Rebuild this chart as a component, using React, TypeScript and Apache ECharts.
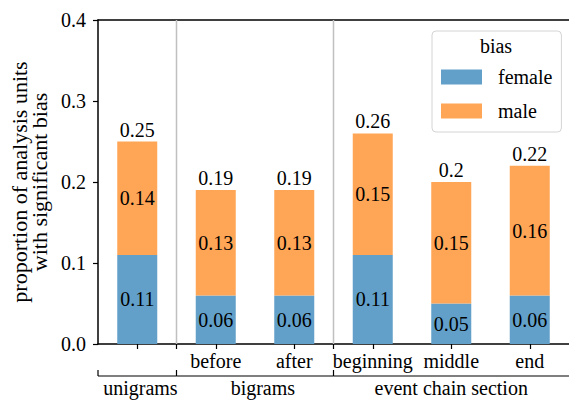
import React, { useEffect, useRef } from "react";
import * as echarts from "echarts";

const categories = ["", "before", "after", "beginning", "middle", "end"];
const female = [0.11, 0.06, 0.06, 0.11, 0.05, 0.06];
const male = [0.14, 0.13, 0.13, 0.15, 0.15, 0.16];
const totals = [0.25, 0.19, 0.19, 0.26, 0.2, 0.22];
const separators = [0.5, 2.5];
const groupNames = ["unigrams", "bigrams", "event chain section"];
const groupStarts = [-0.5, 0.5, 2.5];
const groupEnds = [0.5, 2.5, 5.5];
const groupLabelPos = [0.04, 1.6, 4.0];

const FONT = "'Liberation Serif', 'Times New Roman', serif";
const FS = 20;
const BLUE = "#62a0ca";
const ORANGE = "#ffa556";

export default function App() {
  const ref = useRef<HTMLDivElement>(null);
  useEffect(() => {
    if (!ref.current) return;
    const chart = echarts.init(ref.current, undefined, { renderer: "svg" });
    const valueLabel = (position: string, distance?: number) => ({
      show: true,
      position,
      distance,
      fontSize: FS,
      fontFamily: FONT,
      color: "#000",
      formatter: (p: any) => String(p.value),
    });
    const option: any = {
      animation: false,
      textStyle: { fontFamily: FONT, color: "#000" },
      grid: { left: 98, top: 20, width: 474, height: 324 },
      xAxis: [
        {
          type: "category",
          data: categories,
          axisLine: { show: true, onZero: false, lineStyle: { color: "#000", width: 1.5 } },
          axisTick: { show: true, alignWithLabel: true, length: 5, lineStyle: { color: "#000", width: 1.2 } },
          axisLabel: { fontSize: FS, fontFamily: FONT, color: "#000", margin: 7, interval: 0 },
          splitLine: { show: false },
        },
        {
          type: "value",
          position: "top",
          min: -0.5,
          max: 5.5,
          axisLine: { show: true, onZero: false, lineStyle: { color: "#000", width: 1.5 } },
          axisTick: { show: false },
          axisLabel: { show: false },
          splitLine: { show: false },
        },
      ],
      yAxis: {
        type: "value",
        min: 0,
        max: 0.4,
        interval: 0.1,
        name: "proportion of analysis units\nwith significant bias",
        nameLocation: "middle",
        nameGap: 34,
        nameTextStyle: { fontSize: 22, fontFamily: FONT, color: "#000", lineHeight: 20 },
        axisLine: { show: true, onZero: false, lineStyle: { color: "#000", width: 1.5 } },
        axisTick: { show: true, length: 5, lineStyle: { color: "#000", width: 1.2 } },
        axisLabel: { fontSize: FS, fontFamily: FONT, color: "#000", margin: 12, formatter: (v: number) => v.toFixed(1) },
        splitLine: { show: false },
      },
      legend: {
        data: ["female", "male"],
        orient: "vertical",
        left: 432,
        top: 31,
        itemWidth: 41,
        itemHeight: 15,
        itemGap: 14,
        icon: "rect",
        selectedMode: false,
        padding: [36, 9, 11, 9],
        borderColor: "#d4d4d4",
        borderWidth: 1,
        borderRadius: 4,
        textStyle: { fontSize: FS, fontFamily: FONT, color: "#000", padding: [0, 0, 0, 11], lineHeight: 15 },
      },
      graphic: [
        {
          type: "text",
          x: 496,
          y: 46,
          style: { text: "bias", fontSize: FS, fontFamily: FONT, fill: "#000", textAlign: "center", textVerticalAlign: "middle" },
        },
      ],
      series: [
        {
          name: "female",
          type: "bar",
          stack: "a",
          data: female,
          barWidth: 40,
          barGap: "-100%",
          itemStyle: { color: BLUE },
          label: valueLabel("inside"),
        },
        {
          name: "male",
          type: "bar",
          stack: "a",
          data: male,
          barWidth: 40,
          barGap: "-100%",
          itemStyle: { color: ORANGE },
          label: valueLabel("inside"),
        },
        {
          name: "total",
          type: "bar",
          data: totals,
          barWidth: 40,
          barGap: "-100%",
          z: 1,
          itemStyle: { color: "rgba(0,0,0,0)" },
          label: valueLabel("top", 2),
        },
        {
          name: "separators",
          type: "custom",
          xAxisIndex: 1,
          yAxisIndex: 0,
          clip: false,
          silent: true,
          data: separators.map((s) => [s, 0]),
          encode: { x: 0, y: 1 },
          renderItem: (params: any, api: any) => {
            const x = api.value(0);
            const top = api.coord([x, 0.4]);
            const bot = api.coord([x, 0]);
            return {
              type: "group",
              children: [
                { type: "line", shape: { x1: top[0], y1: top[1], x2: bot[0], y2: bot[1] }, style: { stroke: "#c0c0c0", lineWidth: 1.5 } },
                { type: "line", shape: { x1: bot[0], y1: bot[1], x2: bot[0], y2: bot[1] + 5 }, style: { stroke: "#000", lineWidth: 1.2 } },
              ],
            };
          },
        },
        {
          name: "groups",
          type: "custom",
          xAxisIndex: 1,
          yAxisIndex: 0,
          clip: false,
          silent: true,
          data: groupStarts.map((s, i) => [s, 0, groupEnds[i], groupLabelPos[i]]),
          encode: { x: [0, 2, 3], y: 1 },
          renderItem: (params: any, api: any) => {
            const s = api.coord([api.value(0), 0]);
            const e = api.coord([api.value(2), 0]);
            const l = api.coord([api.value(3), 0]);
            const yLine = s[1] + 32;
            return {
              type: "group",
              children: [
                { type: "line", shape: { x1: s[0], y1: yLine - 6, x2: s[0], y2: yLine }, style: { stroke: "#000", lineWidth: 1.2 } },
                { type: "line", shape: { x1: s[0], y1: yLine, x2: e[0], y2: yLine }, style: { stroke: "#000", lineWidth: 1.2 } },
                {
                  type: "text",
                  x: l[0],
                  y: yLine + 12,
                  style: { text: groupNames[params.dataIndex], fontSize: FS, fontFamily: FONT, fill: "#000", textAlign: "center", textVerticalAlign: "middle" },
                },
              ],
            };
          },
        },
      ],
    };
    chart.setOption(option);
    return () => chart.dispose();
  }, []);
  return <div ref={ref} style={{ position: "absolute", left: 0, top: 0, width: 569, height: 400 }} />;
}
